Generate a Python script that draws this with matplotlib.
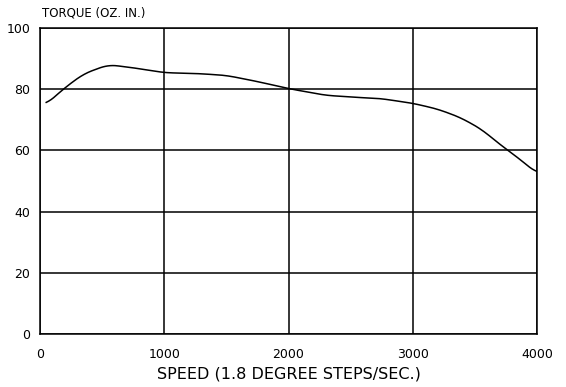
import numpy as np
from matplotlib import pyplot as plt

# torque curve
speed = [50, 185, 350, 550, 750, 1000, 1275, 1500, 1750, 2000, 2300, 2600, 2730, 3000, 3200, 3380, 3550, 3700, 3850, 4000]
torque = [75, 80, 85, 88, 87, 85.4, 85.1, 84.5, 82.5, 80.2, 78, 77.2, 77, 75.4, 73.5, 70.8, 67, 62, 57.5, 52.5]
xticks = [0, 1000, 2000, 3000, 4000]
yticks = [0, 20, 40, 60, 80, 100]

fig = plt.figure(figsize=(5.66, 3.87), dpi=100)
ax = fig.add_axes([40/566, 53/387, 497/566, 306/387])

# smooth the hand-read points a bit for drawing
xs = np.linspace(speed[0], speed[-1], 400)
ys = np.interp(xs, speed, torque)
k = np.ones(15) / 15
ys_s = np.convolve(np.pad(ys, 7, mode='edge'), k, mode='valid')
ax.plot(xs, ys_s, color='black', lw=1.1)

ax.set_xlim(0, 4000)
ax.set_ylim(0, 100)
ax.set_xticks(xticks)
ax.set_yticks(yticks)
ax.grid(True, color='black', lw=1.1)
ax.tick_params(length=0, labelsize=9)
ax.tick_params(axis='x', pad=10)
ax.tick_params(axis='y', pad=7)
for s in ax.spines.values():
    s.set_linewidth(1.1)
ax.set_xlabel('SPEED (1.8 DEGREE STEPS/SEC.)', fontsize=11.5, labelpad=4)
fig.text(42/566, 1 - 13/387, 'TORQUE (OZ. IN.)', fontsize=8.5, va='center', ha='left')

plt.savefig('out.png')
